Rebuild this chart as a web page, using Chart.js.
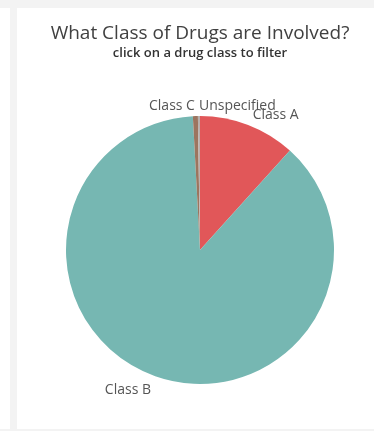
<!DOCTYPE html>
<html>
<head>
<meta charset="utf-8">
<script src="https://cdn.jsdelivr.net/npm/chart.js@4/dist/chart.umd.min.js"></script>
<style>
  html, body { margin: 0; padding: 0; background: #ffffff; }
  body { width: 374px; height: 431px; position: relative; overflow: hidden;
         font-family: "Open Sans", "Noto Sans", sans-serif; }
  .band-top { position: absolute; left: 0; top: 0; width: 374px; height: 8px; background: #f3f3f3; }
  .band-left { position: absolute; left: 10px; top: 8px; width: 7px; height: 423px; background: #f3f3f3; }
  .band-bottom { position: absolute; left: 0; top: 429px; width: 374px; height: 2px; background: #f3f3f3; }
  .panel { position: absolute; left: 17px; top: 8px; width: 357px; height: 421px; background: #ffffff; }
  .heading { position: absolute; left: 26px; width: 348px; text-align: center; white-space: nowrap; }
  .title { top: 20px; font-size: 19px; line-height: 24px; color: #404040; }
  .subtitle { top: 44px; font-size: 13px; line-height: 16px; font-weight: 600; color: #333333; }
</style>
</head>
<body>
<div class="band-top"></div>
<div class="band-left"></div>
<div class="band-bottom"></div>
<div class="panel"><canvas id="chart" width="357" height="421"></canvas></div>
<div class="heading title">What Class of Drugs are Involved?</div>
<div class="heading subtitle">click on a drug class to filter</div>
<script>
// Share of incidents by drug class (percent)
const categories = ['Class A', 'Class B', 'Class C', 'Unspecified'];
const shares = [11.7, 87.45, 0.6, 0.25];
const sliceColors = ['#e15759', '#76b7b2', '#9c755f', '#bab0ac'];

const FONT = '"Open Sans", "Noto Sans", sans-serif';

// Writes each class name just outside its slice; a label that would run into
// the one drawn before it is moved to start right after it.
const outsideLabels = {
  id: 'outsideLabels',
  afterDatasetsDraw(chart) {
    const ctx = chart.ctx;
    const meta = chart.getDatasetMeta(0);
    const labels = chart.data.labels;
    ctx.save();
    ctx.font = '14px ' + FONT;
    ctx.fillStyle = '#555555';
    ctx.textBaseline = 'middle';
    let prev = null;
    meta.data.forEach((arc, i) => {
      const p = arc.getProps(['x', 'y', 'startAngle', 'endAngle', 'outerRadius'], true);
      const mid = (p.startAngle + p.endAngle) / 2;
      const r = p.outerRadius + 12.5;
      const ax = p.x + Math.cos(mid) * r;
      const ay = p.y + Math.sin(mid) * r + 2;
      const text = labels[i];
      const w = ctx.measureText(text).width;
      let left = Math.cos(mid) < 0 ? ax - w : ax;
      let y = ay;
      if (prev && Math.abs(prev.y - y) < 12 && left < prev.right + 3 && left + w > prev.left) {
        left = prev.right + 4;
        y = prev.y;
      }
      ctx.textAlign = 'left';
      ctx.fillText(text, left, y);
      prev = { left: left, right: left + w, y: y };
    });
    ctx.restore();
  }
};

new Chart(document.getElementById('chart'), {
  type: 'pie',
  data: {
    labels: categories,
    datasets: [{
      data: shares,
      backgroundColor: sliceColors,
      borderWidth: 0
    }]
  },
  options: {
    responsive: false,
    animation: false,
    layout: { padding: { left: 49, right: 40, top: 108, bottom: 45 } },
    plugins: {
      legend: { display: false },
      tooltip: { enabled: false },
      title: { display: false }
    }
  },
  plugins: [outsideLabels]
});
</script>
</body>
</html>
